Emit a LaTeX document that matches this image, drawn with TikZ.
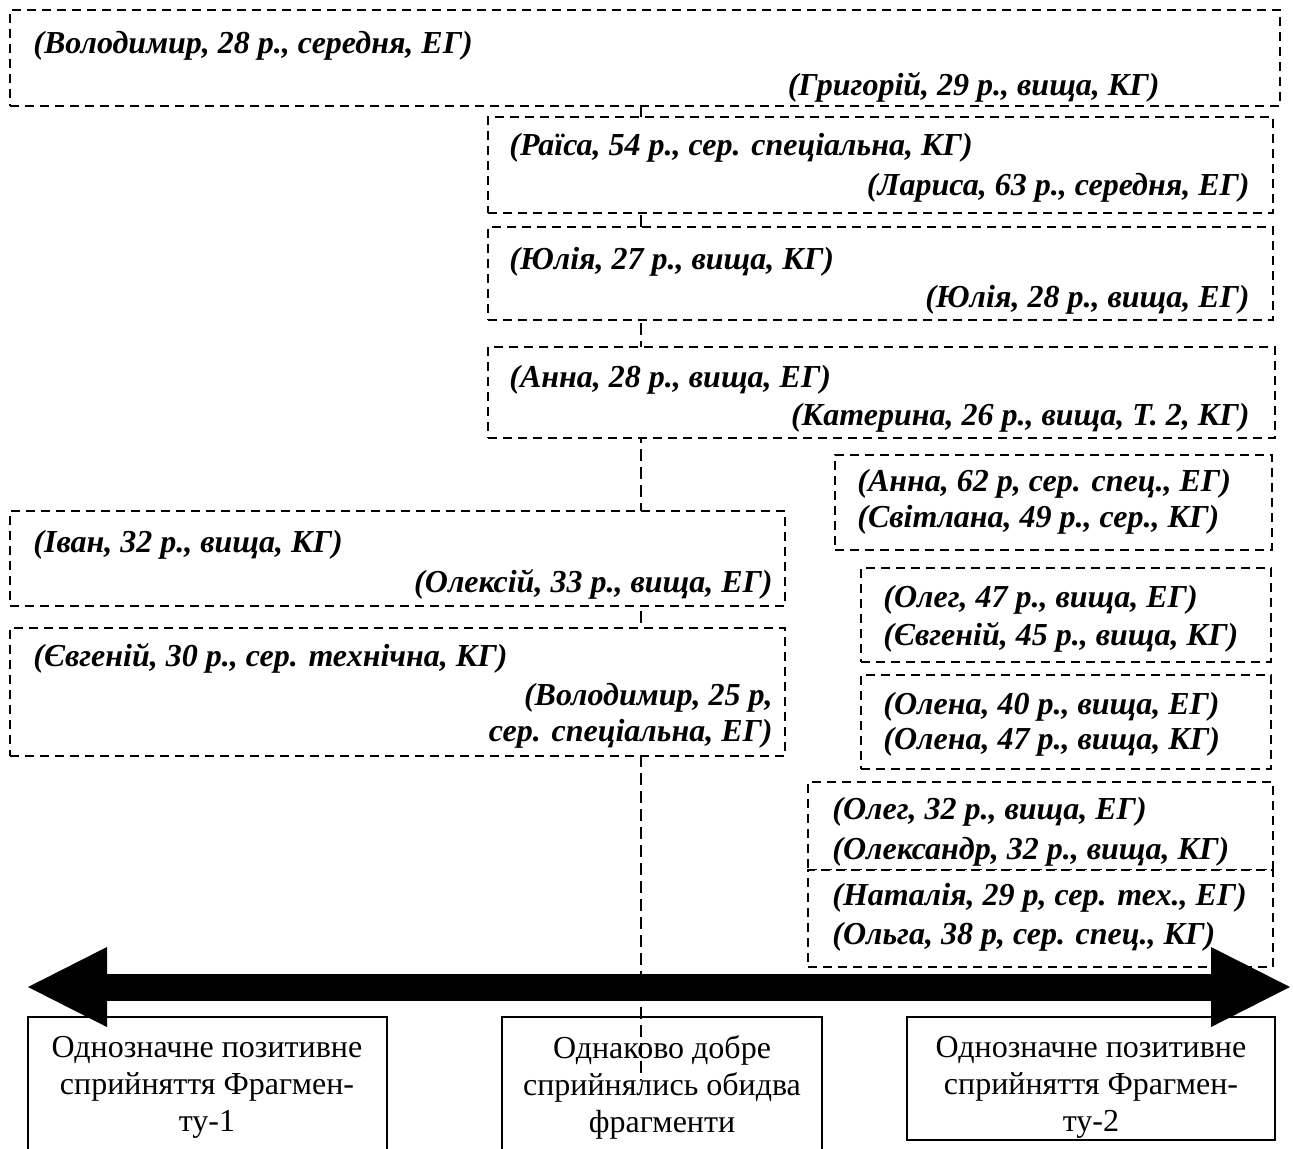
\documentclass[tikz,border=0pt]{standalone}
\usepackage{fontspec}
\setmainfont{Liberation Serif}
\usetikzlibrary{positioning,fit,arrows.meta,backgrounds}

\begin{document}
\begin{tikzpicture}[x=0.5pt,y=-0.5pt]
  \tikzstyle{group}=[draw,line width=1.4pt,dash pattern=on 4.5pt off 3pt,fill=white,inner sep=0pt]
  \tikzstyle{who}=[inner sep=0pt,font=\fontsize{16}{18}\selectfont\bfseries\itshape]
  \tikzstyle{pole}=[draw,line width=0.9pt,inner sep=0pt]
  \tikzstyle{verdict}=[inner sep=0pt,align=center,font=\fontsize{16}{18.5}\selectfont]
  \tikzstyle{link}=[line width=1pt,dash pattern=on 6pt off 3pt]
  \useasboundingbox (0,0) rectangle (1293,1148);
  % Pairs on the left side
  \node[group,fit={(10,10) (1280,106)}] (g1) {};
  \node[who,anchor=west] (volod28) at (33,46) {(Володимир, 28 р., середня, ЕГ)};
  \node[who,anchor=east] (hryh29) at (1160,87) {(Григорій, 29 р., вища, КГ)};
  \node[group,fit={(488,117) (1273,213)}] (g2) {};
  \node[who,anchor=west] (raisa54) at (509,148) {(Раїса, 54 р., сер. спеціальна, КГ)};
  \node[who,anchor=east] (larysa63) at (1250,188) {(Лариса, 63 р., середня, ЕГ)};
  \node[group,fit={(488,227) (1273,320)}] (g3) {};
  \node[who,anchor=west] (yulia27) at (509,262) {(Юлія, 27 р., вища, КГ)};
  \node[who,anchor=east] (yulia28) at (1250,300) {(Юлія, 28 р., вища, ЕГ)};
  \node[group,fit={(488,347) (1275,438)}] (g4) {};
  \node[who,anchor=west] (anna28) at (509,380) {(Анна, 28 р., вища, ЕГ)};
  \node[who,anchor=east] (kateryna26) at (1250,418) {(Катерина, 26 р., вища, Т. 2, КГ)};
  \node[group,fit={(10,511) (785,606)}] (g6) {};
  \node[who,anchor=west] (ivan32) at (33,545) {(Іван, 32 р., вища, КГ)};
  \node[who,anchor=east] (oleksii33) at (773,584) {(Олексій, 33 р., вища, ЕГ)};
  \node[group,fit={(10,628) (785,756)}] (g8) {};
  \node[who,anchor=west] (yevhen30) at (33,658) {(Євгеній, 30 р., сер. технічна, КГ)};
  \node[who,anchor=east,align=right] (volod25) at (773,716) {(Володимир, 25 р,\\сер. спеціальна, ЕГ)};
  % Pairs on the right side
  \node[group,fit={(835,455) (1272,550)}] (g5) {};
  \node[who,anchor=west] (anna62) at (857,484) {(Анна, 62 р, сер. спец., ЕГ)};
  \node[who,anchor=west] (svitlana49) at (857,520) {(Світлана, 49 р., сер., КГ)};
  \node[group,fit={(861,568) (1271,662)}] (g7) {};
  \node[who,anchor=west] (oleh47) at (883,600) {(Олег, 47 р., вища, ЕГ)};
  \node[who,anchor=west] (yevhen45) at (883,637) {(Євгеній, 45 р., вища, КГ)};
  \node[group,fit={(861,675) (1271,769)}] (g9) {};
  \node[who,anchor=west] (olena40) at (883,707) {(Олена, 40 р., вища, ЕГ)};
  \node[who,anchor=west] (olena47) at (883,742) {(Олена, 47 р., вища, КГ)};
  \node[group,fit={(808,782) (1273,870)}] (g10) {};
  \node[who,anchor=west] (oleh32) at (832,812) {(Олег, 32 р., вища, ЕГ)};
  \node[who,anchor=west] (oleksandr32) at (832,852) {(Олександр, 32 р., вища, КГ)};
  \node[group,line width=1pt,fit={(808,870) (1273,967)}] (g11) {};
  \node[who,anchor=west] (natalia29) at (832,898) {(Наталія, 29 р, сер. тех., ЕГ)};
  \node[who,anchor=west] (olha38) at (832,937) {(Ольга, 38 р, сер. спец., КГ)};
  % Scale arrow
  \coordinate (leftend) at (28,987);
  \coordinate (rightend) at (1290,987);
  \draw[line width=13.5pt,{Triangle[length=39.5pt,width=40pt,line width=0pt]}-{Triangle[length=39.5pt,width=40pt,line width=0pt]}] (leftend) -- (rightend);
  % Poles of the scale
  \node[pole,fit={(28,1017) (387,1170)}] (pole1) {};
  \node[verdict] (frag1) at (207,1087) {Однозначне позитивне\\сприйняття Фрагмен-\\ту-1};
  \node[pole,fit={(502,1017) (822,1170)}] (pole0) {};
  \node[verdict] (both) at (662,1087) {Однаково добре\\сприйнялись обидва\\фрагменти};
  \node[pole,fit={(907,1017) (1275,1140)}] (pole2) {};
  \node[verdict] (frag2) at (1091,1087) {Однозначне позитивне\\сприйняття Фрагмен-\\ту-2};
  % Axis line behind the groups
  \coordinate (axis) at (641,1080);
  \begin{scope}[on background layer]
    \draw[link] (g1.south -| axis) -- (axis);
  \end{scope}
\end{tikzpicture}
\end{document}
